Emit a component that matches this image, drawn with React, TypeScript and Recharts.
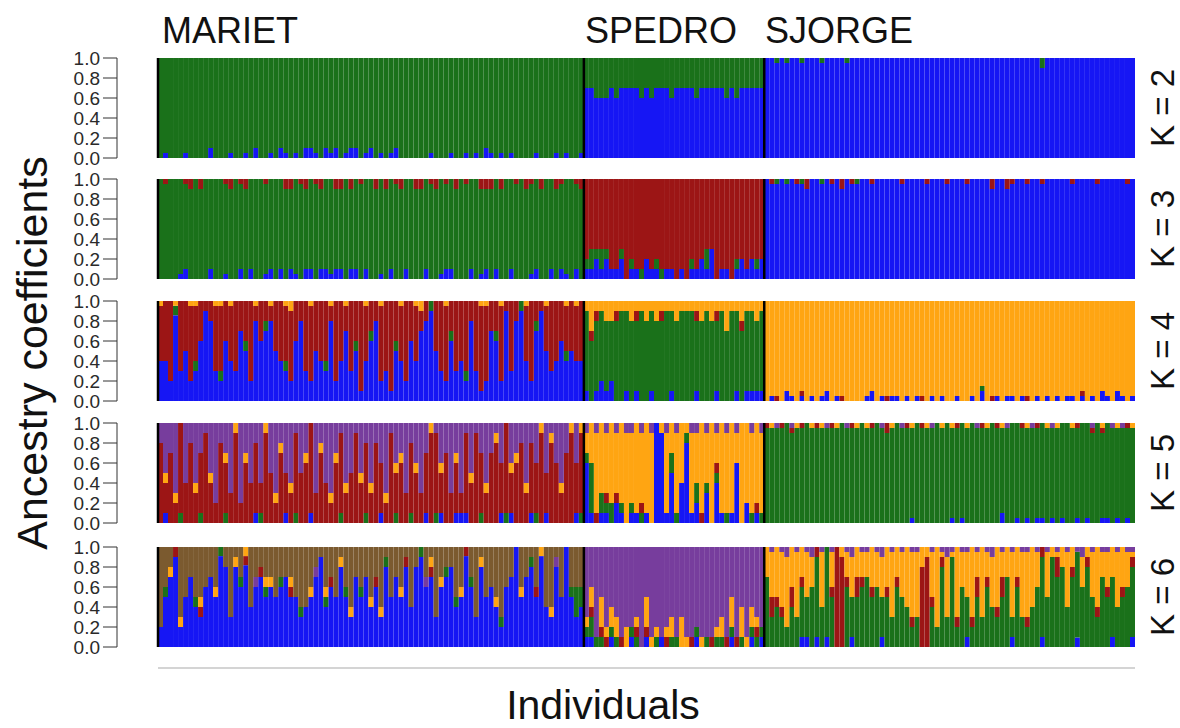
import React from 'react';
import { BarChart, Bar, XAxis, YAxis, ReferenceLine } from 'recharts';

// ---------------------------------------------------------------------------
// Ancestry data: one character per individual.
// 0-9 = tenths, a = 1.0, + = 0.05, * = whatever is left of the bar.
// Each series is [MARIET, SPEDRO, SJORGE]; spaces only help counting.
// ---------------------------------------------------------------------------

const POPULATIONS = ['MARIET', 'SPEDRO', 'SJORGE'];
const POP_SIZES = [85, 36, 74];

const FILL_M = '********** ********** ********** ********** ********** ********** ********** ********** *****';
const FILL_S = '********** ********** ********** ******';
const FILL_J = '********** ********** ********** ********** ********** ********** ********** ****';
const NONE_S = '0000000000 0000000000 0000000000 000000';
const NONE_J = '0000000000 0000000000 0000000000 0000000000 0000000000 0000000000 0000000000 0000';

// K = 2
const K2_BLUE = [
  '0+000+0000 1000+00+01 00+01+0+01 1+01+10+11 0+10+0+100 0000+000+0 0+0+01+0+0 +0000+000+ 0+00+',
  '7766676777 7676777677 7767777767 677777',
  FILL_J,
];
const K2_GREEN = [
  FILL_M,
  FILL_S,
  '00+0+00+00 0+0000+000 0000000000 0000000000 0000000000 0000010000 0000000000 0000',
];

// K = 3
const K3_BLUE = [
  '0000+10000 100+001010 0+10101+01 1011+11011 0100+01001 000100+110 0010+10100 1000+10010 1+010',
  '1121211201 1021101101 0112130110 121212',
  FILL_J,
];
const K3_GREEN = [
  FILL_M,
  '1212100101 0100110000 0100200000 100010',
  '00+0+00+00 0+000000+0 0000000000 0000000000 0000000000 0000000000 0000000000 0000',
];
const K3_RED = [
  '0+000+1010 000+10+100 0+000110+1 0+10011010 +001010+10 0110+10+01 0+00111010 0+01+01001 +00+1',
  FILL_S,
  '0+0000+010 000+010+00 0+00000+00 00+000+000 +00001001+ 00+00+0000 0+0000+000 00+0',
];

// K = 4
const K4_BLUE = [
  '4429352369 8326437528 6785432683 2543824735 1468231542 6478953263 4283127629 3894279534 64544',
  '1012120010 1001000100 0010001000 101111',
  '0+001+0+0+ 0+10+00000 +10+0++0+0 +00+0+00+0 0+0100+0++ 0+00+0+0+0 ++0+0+01+0 1+0+',
];
const K4_GREEN = [
  '0001000100 0010000100 0100010000 0001000001 0010000100 0000100010 0100000100 0010010000 01000',
  FILL_S,
  '0000000000 0000000000 0000000000 0000000000 000+000000 0000000000 0000000000 0000',
];
const K4_RED = [
  FILL_M,
  '0110001000 1000010000 0010001000 010000',
  '00+0000+00 00000+0000 0000+00000 0+00000000 00000+0000 00+0000000 000+000000 0000',
];
const K4_ORANGE = [
  '+00+00++00 0++0+0000+ 00+00+1000 +000+00+00 0+00+000+0 0+10000+00 0000++00+0 000+000+00 0+0+0',
  '1311221112 1121211121 1112121131 121121',
  FILL_J,
];

// K = 5
const K5_BLUE = [
  '0100000000 0000000001 0000010000 1000000000 0000100000 0001001001 1100000010 1000100100 00010',
  '6101102101 1010a91504 8120304101 602010',
  '0000000000 0000000000 000000000+ 0000000+0+ 0000000100 +0+0++0+0+ 00+0+00++0 +0+0',
];
const K5_GREEN = [
  '0000100010 0001000000 1000000100 0000001000 0100000100 1000010000 0000100001 0000010000 00001',
  '1502120101 0100000210 1020101010 000101',
  FILL_J,
];
const K5_RED = [
  '8372948369 4285392647 3952743856 9374268359 4738529463 7536984735 2849637859 4683759486 37958',
  '0010101000 0100000000 0001001000 000010',
  '+00+0+0+00 +00+000+00 0+001000+0 0+000000+0 000+00+000 0+00+00000 00+00+0+00 00+0',
];
const K5_ORANGE = [
  '0101000100 1001010100 0101101001 0010110100 1010010110 0100101001 0010010100 1101001010 10101',
  FILL_S,
  '0+0000+00+ 0+00+000+0 +0000+000+ 00+00+0+00 +000+00+00 00+000+0+0 0+00000+00 +00+',
];
const K5_PURPLE = [
  FILL_M,
  '1010101011 0101001010 0110101010 100101',
  '00+00+0000 00+000+000 000+000+00 000+000000 00+00000+0 000+000+00 00000+000+ 0+00',
];

// K = 6
const K6_BLUE = [
  '2579257436 75a8386946 7565675534 5794658537 5746385758 4896736784 5a63856426 7a5785a438 5a534',
  '1100010001 0010010000 0010000001 000101',
  '0000000110 1010000100 0001000000 0000000000 1000000001 0000010000 0010000001 0001',
];
const K6_GREEN = [
  '0100000100 0010001000 0100100010 0001000100 1000010000 0010000101 0010000010 0000100000 00132',
  '1211011001 1000100110 0010101101 010111',
  '7343243546 8495006456 7564536542 3004283926 4253643572 6324685978 4796853756 4567',
];
const K6_RED = [
  '0001000010 0000000100 1000001000 0000100000 0001000001 0000100000 0100000000 0000010000 00000',
  '0101100100 1010001000 0100010010 100010',
  '0211020100 1001a91021 0100101001 0891010010 0120101200 1010010020 0100101010 0101',
];
const K6_ORANGE = [
  '0010100010 0100010100 0110001000 1001001010 0010100010 0000101000 1000100100 0010001010 00000',
  '1203122020 1031101203 1001001203 031210',
  FILL_J,
];
const K6_PURPLE = [
  '0000000000 0000000001 0000000000 0100000000 0000000000 0001000000 0000000000 0000000001 00000',
  FILL_S,
  '0+0+10+0+1 0+0+00+10+ +0+10+0+0+ +00+0+1+0+ +0+0+10+0+ 0++0+0+0+0 +0+10+0++0 +0++',
];
const K6_BROWN = [FILL_M, NONE_S, NONE_J];

// ---------------------------------------------------------------------------
// Styling
// ---------------------------------------------------------------------------

const COMPONENTS = ['blue', 'green', 'red', 'orange', 'purple', 'brown'];
const COLORS: Record<string, string> = {
  blue: '#1616f4',
  green: '#1a711a',
  red: '#9c1515',
  orange: '#ffa512',
  purple: '#773d9d',
  brown: '#7b5a2f',
};
const FONT = "'Liberation Sans', Arial, Helvetica, sans-serif";
const Y_TICKS = [0, 0.2, 0.4, 0.6, 0.8, 1.0];

const PANELS = [
  { k: 2, top: 58, series: [K2_BLUE, K2_GREEN] },
  { k: 3, top: 179, series: [K3_BLUE, K3_GREEN, K3_RED] },
  { k: 4, top: 301, series: [K4_BLUE, K4_GREEN, K4_RED, K4_ORANGE] },
  { k: 5, top: 423, series: [K5_BLUE, K5_GREEN, K5_RED, K5_ORANGE, K5_PURPLE] },
  { k: 6, top: 547, series: [K6_BLUE, K6_GREEN, K6_RED, K6_ORANGE, K6_PURPLE, K6_BROWN] },
];

const PLOT_H = 100;
const CHART_W = 1135;
const AXIS_W = 117;
const BAR_LEFT = 158;

// first individual of each population (left edge gets a black line)
const BOUNDARIES = POP_SIZES.map((_, i) => POP_SIZES.slice(0, i).reduce((a, b) => a + b, 0));

function charValue(ch: string) {
  if (ch === 'a') return 10;
  if (ch === '+') return 0.5;
  return Number(ch);
}

function buildRows(series: string[][]) {
  const cols = series.map((pops) => {
    const parts = pops.map((p) => p.replace(/\s/g, ''));
    parts.forEach((p, i) => {
      if (p.length !== POP_SIZES[i]) console.warn('bad length', POPULATIONS[i], p.length);
    });
    return parts.join('');
  });
  const n = cols[0].length;
  const rows: Record<string, number>[] = [];
  for (let i = 0; i < n; i++) {
    const raw = cols.map((c) => c[i] ?? '0');
    const known = raw.reduce((s, ch) => (ch === '*' ? s : s + charValue(ch)), 0);
    const nFill = raw.filter((ch) => ch === '*').length;
    const fill = nFill ? Math.max(0, 10 - known) / nFill : 0;
    const total = known + fill * nFill || 1;
    const row: Record<string, number> = { id: i };
    raw.forEach((ch, j) => {
      row[COMPONENTS[j]] = (ch === '*' ? fill : charValue(ch)) / total;
    });
    rows.push(row);
  }
  return rows;
}

const renderYTick = (props: any) => {
  const { x, y, payload } = props;
  return (
    <text
      x={x}
      y={y}
      dy="0.36em"
      textAnchor="end"
      style={{ fontSize: '19px', fill: '#2a2a2a', fontFamily: FONT }}
    >
      {Number(payload.value).toFixed(1)}
    </text>
  );
};

const Panel: React.FC<{ k: number; top: number; series: string[][] }> = ({ k, top, series }) => {
  const data = buildRows(series);
  const keys = COMPONENTS.slice(0, k);
  return (
    <div style={{ position: 'absolute', left: 0, top: top - 10 }}>
      <BarChart
        width={CHART_W}
        height={PLOT_H + 20}
        data={data}
        margin={{ top: 10, right: 0, bottom: 10, left: 0 }}
        barCategoryGap={0}
        barGap={0}
      >
        <XAxis dataKey="id" type="category" hide padding={{ left: BAR_LEFT - AXIS_W, right: 0 }} />
        <YAxis
          type="number"
          domain={[0, 1]}
          allowDataOverflow
          ticks={Y_TICKS}
          interval={0}
          width={AXIS_W}
          tickSize={14}
          tickMargin={3}
          axisLine={{ stroke: '#333' }}
          tickLine={{ stroke: '#333' }}
          tick={renderYTick}
        />
        {keys.map((key) => (
          <Bar key={key} dataKey={key} stackId="q" fill={COLORS[key]} isAnimationActive={false} />
        ))}
        {BOUNDARIES.map((b) => (
          <ReferenceLine key={b} x={b} position="start" stroke="#000" strokeWidth={2.5} />
        ))}
      </BarChart>
    </div>
  );
};

export default function App() {
  return (
    <div
      style={{
        position: 'absolute', left: 0, top: 0, width: 1180, height: 728,
        background: '#fff', overflow: 'hidden', fontFamily: FONT,
      }}
    >
      {PANELS.map((p) => (
        <Panel key={p.k} k={p.k} top={p.top} series={p.series} />
      ))}
      <svg
        width={1180}
        height={728}
        style={{ position: 'absolute', left: 0, top: 0, pointerEvents: 'none' }}
      >
        <g fontFamily={FONT} fill="#111">
          <text x={162} y={43} fontSize={36}>MARIET</text>
          <text x={585} y={43} fontSize={36}>SPEDRO</text>
          <text x={765} y={43} fontSize={36}>SJORGE</text>
          <text x={603} y={719} fontSize={41} textAnchor="middle">Individuals</text>
          <text transform="translate(47,353) rotate(-90)" fontSize={43} textAnchor="middle">
            Ancestry coefficients
          </text>
          {PANELS.map((p) => (
            <text
              key={p.k}
              transform={`translate(1174,${p.top + PLOT_H / 2}) rotate(-90)`}
              fontSize={33}
              textAnchor="middle"
            >
              {`K = ${p.k}`}
            </text>
          ))}
        </g>
        <line x1={BAR_LEFT} x2={CHART_W} y1={668} y2={668} stroke="#d4d4d4" strokeWidth={2} />
      </svg>
    </div>
  );
}
